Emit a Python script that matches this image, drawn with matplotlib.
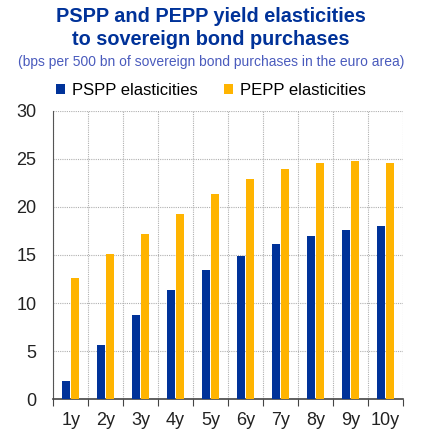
import matplotlib.pyplot as plt
import numpy as np

plt.rcParams['font.family'] = ['Liberation Sans', 'DejaVu Sans']

# dane
maturities = ['1y', '2y', '3y', '4y', '5y', '6y', '7y', '8y', '9y', '10y']
pspp = [1.9, 5.6, 8.8, 11.35, 13.4, 14.9, 16.1, 17.0, 17.6, 18.0]
pepp = [12.6, 15.1, 17.2, 19.3, 21.3, 22.9, 24.0, 24.6, 24.75, 24.6]

blue = '#003299'
yellow = '#FFB400'

fig = plt.figure(figsize=(4.22, 4.30), dpi=100)
ax = fig.add_axes([0.126, 0.072, 0.829, 0.670])

x = np.arange(len(maturities))
width = 0.23
ax.bar(x - 0.135, pspp, width, color=blue, label='PSPP elasticities', zorder=3)
ax.bar(x + 0.135, pepp, width, color=yellow, label='PEPP elasticities', zorder=3)

ax.set_xlim(-0.5, len(maturities) - 0.5)
ax.set_ylim(0, 30)
ax.set_yticks(np.arange(0, 31, 5))
ax.tick_params(axis='y', length=0, labelsize=13, pad=12, colors='#222222')

# kreski osi X na granicach kategorii
ax.set_xticks(np.arange(-0.5, len(maturities), 1.0))
ax.set_xticklabels([])
ax.set_xticks(x, minor=True)
ax.set_xticklabels(maturities, minor=True)
ax.tick_params(axis='x', which='major', length=5, direction='out', color='#444444')
ax.tick_params(axis='x', which='minor', length=0, labelsize=13, pad=9, colors='#222222')

ax.grid(True, which='major', color='#b0b0b0', linestyle=(0, (1, 1)), linewidth=0.8, zorder=0)
for s in ['top', 'right']:
    ax.spines[s].set_visible(False)
ax.spines['left'].set_color('#555555')
ax.spines['bottom'].set_color('#444444')
ax.spines['bottom'].set_linewidth(1.2)

fig.text(0.5, 0.935, 'PSPP and PEPP yield elasticities\nto sovereign bond purchases',
         ha='center', va='center', fontsize=14.3, fontweight='bold', color='#003299',
         linespacing=1.3)
fig.text(0.5, 0.856, '(bps per 500 bn of sovereign bond purchases in the euro area)',
         ha='center', va='center', fontsize=10, color='#4a5bbd')

fig.legend(loc='center', bbox_to_anchor=(0.5, 0.79), ncol=2, frameon=False,
           fontsize=12, handlelength=0.55, handleheight=0.55, handletextpad=0.4,
           columnspacing=1.6)

plt.savefig('out.png', dpi=100)
plt.close()
